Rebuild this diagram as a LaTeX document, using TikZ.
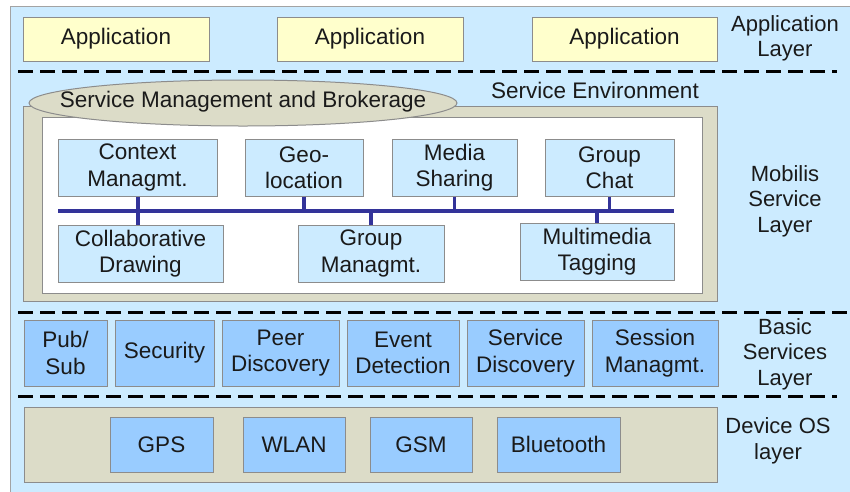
\documentclass[tikz,border=0pt]{standalone}
\usepackage{fontspec}
\setmainfont{Liberation Sans}
\usetikzlibrary{shapes.geometric}
\definecolor{panel}{HTML}{CCEBFF}
\definecolor{appfill}{HTML}{FFFFCC}
\definecolor{beige}{HTML}{DCDCC8}
\definecolor{svcfill}{HTML}{CCEBFF}
\definecolor{basicfill}{HTML}{99CCFF}
\definecolor{edge}{HTML}{8C8C8C}
\definecolor{bus}{HTML}{333399}
\definecolor{txt}{HTML}{1A1A1A}
\tikzset{
  every node/.style={text=txt, font=\fontsize{22.5}{26.5}\selectfont},
  boxbase/.style={draw=edge, line width=1pt, inner sep=0pt, align=center},
  appbox/.style={boxbase, fill=appfill, minimum height=44pt},
  svcbox/.style={boxbase, fill=svcfill, minimum height=57pt},
  basicbox/.style={boxbase, fill=basicfill, minimum height=66pt},
  osbox/.style={boxbase, fill=basicfill, minimum height=55pt},
  layerlabel/.style={align=center, inner sep=0pt, font=\fontsize{22}{25.5}\selectfont},
  sepline/.style={line width=3pt, dash pattern=on 15pt off 7pt, black},
  busline/.style={draw=bus, line width=3.5pt},
}
\begin{document}
\begin{tikzpicture}[x=1pt, y=-1pt]
\useasboundingbox (0,0) rectangle (850,491);
% panel
\fill[white] (0,0) rectangle (850,491);
\draw[draw=edge!80, fill=panel, line width=1pt] (10,6) rectangle (870,510);

% application layer
\node[appbox, minimum width=186pt] (app1) at (116,39) {Application};
\node[appbox, minimum width=186pt] (app2) at (370,39) {Application};
\node[appbox, minimum width=185pt] (app3) at (624.5,39) {Application};
\node[layerlabel] (lapp) at (785,38.5) {Application\\Layer};

\coordinate (d1l) at (18,71); \coordinate (d1r) at (837,71);
\draw[sepline] (d1l) -- (d1r);

% service environment
\fill[beige, draw=edge, line width=1pt] (23,106) rectangle (717,301);
\fill[white, draw=edge, line width=1pt] (42,117) rectangle (702,293);
\node[ellipse, draw=edge, line width=1pt, fill=beige, minimum width=428pt, minimum height=46pt, inner sep=0pt] (smb) at (243,103) {};
\node[inner sep=0pt] (smbtext) at ([yshift=1pt]smb.center) {Service Management and Brokerage};
\node[inner sep=0pt] (senv) at (595,90) {Service Environment};
\node[layerlabel] (lmob) at (785,201) {Mobilis\\Service\\Layer};

\node[svcbox, minimum width=159pt] (ctx) at (137.5,167.5) {Context\\Managmt.};
\node[svcbox, minimum width=118pt] (geo) at (304,167.5) {Geo-\\location};
\node[svcbox, minimum width=125pt] (media) at (454.5,167.5) {Media\\Sharing};
\node[svcbox, minimum width=129pt] (chat) at (609.5,167.5) {Group\\Chat};
\node[svcbox, minimum width=165pt] (collab) at (140.5,253.5) {Collaborative\\Drawing};
\node[svcbox, minimum width=146pt] (grpm) at (371,253.5) {Group\\Managmt.};
\node[svcbox, minimum width=154pt] (multi) at (597,251.5) {Multimedia\\Tagging};

\coordinate (busl) at (58,211); \coordinate (busr) at (674,211);
\draw[busline] (busl) -- (busr);
\draw[busline] ([xshift=0.5pt]ctx.south) -- ([xshift=0.5pt]ctx.south |- collab.north);
\draw[busline] (geo.south) -- (geo.south |- busl);
\draw[busline] (media.south) -- (media.south |- busl);
\draw[busline] (chat.south) -- (chat.south |- busl);
\draw[busline] (grpm.north) -- (grpm.north |- busl);
\draw[busline] (multi.north) -- (multi.north |- busl);

\coordinate (d2l) at (18,312); \coordinate (d2r) at (852,312);
\draw[sepline] (d2l) -- (d2r);

% basic services
\node[basicbox, minimum width=83pt] (pub) at (65.5,353) {Pub/\\Sub};
\node[basicbox, minimum width=99pt] (sec) at (164.5,353) {Security};
\node[basicbox, minimum width=117pt] (peer) at (280.5,353) {Peer\\Discovery};
\node[basicbox, minimum width=112pt] (event) at (403,353) {Event\\Detection};
\node[basicbox, minimum width=117pt] (sdisc) at (525.5,353) {Service\\Discovery};
\node[basicbox, minimum width=126pt] (sess) at (655,353) {Session\\Managmt.};
\node[layerlabel] (lbasic) at (785,354) {Basic\\Services\\Layer};

\coordinate (d3l) at (18,396); \coordinate (d3r) at (837,396);
\draw[sepline] (d3l) -- (d3r);

% device OS
\fill[beige, draw=edge, line width=1pt] (24,407) rectangle (717,482);
\node[osbox, minimum width=103pt] (gps) at (161.5,444.5) {GPS};
\node[osbox, minimum width=102pt] (wlan) at (294,444.5) {WLAN};
\node[osbox, minimum width=102pt] (gsm) at (421,444.5) {GSM};
\node[osbox, minimum width=123pt] (bt) at (558.5,444.5) {Bluetooth};
\node[layerlabel] (los) at (778,441) {Device OS\\layer};
\end{tikzpicture}
\end{document}
